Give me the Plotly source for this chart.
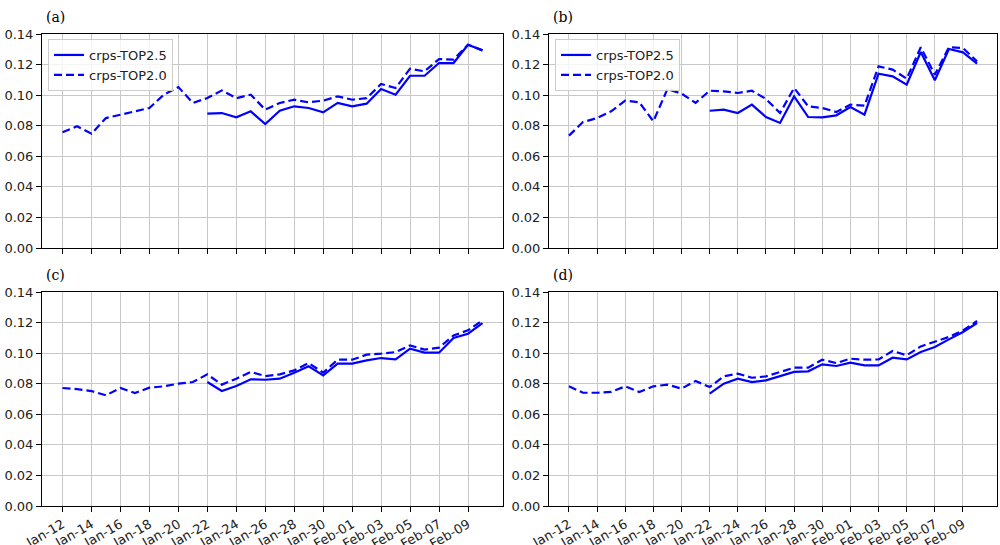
import pandas as pd
import plotly.graph_objects as go
from plotly.subplots import make_subplots

# ---------------- data ----------------
dates_all = pd.date_range("2020-01-12", "2020-02-10", freq="D")
dates_solid = pd.date_range("2020-01-22", "2020-02-10", freq="D")

a_top20 = [0.0757, 0.0796, 0.0748, 0.0850, 0.0872, 0.0894, 0.0916, 0.1003, 0.1053, 0.0949,
           0.0981, 0.1031, 0.0980, 0.1003, 0.0905, 0.0949, 0.0970, 0.0953, 0.0964, 0.0992,
           0.0970, 0.0980, 0.1073, 0.1047, 0.1173, 0.1156, 0.1236, 0.1232, 0.1330, 0.1293]
a_top25 = [0.0879, 0.0883, 0.0855, 0.0894, 0.0811, 0.0898, 0.0927, 0.0916, 0.0887, 0.0949,
           0.0927, 0.0944, 0.1040, 0.1003, 0.1127, 0.1127, 0.1210, 0.1210, 0.1330, 0.1293]

b_top20 = [0.0735, 0.0824, 0.0850, 0.0894, 0.0964, 0.0953, 0.0829, 0.1040, 0.1010, 0.0949,
           0.1029, 0.1025, 0.1014, 0.1029, 0.0975, 0.0883, 0.1047, 0.0927, 0.0916, 0.0890,
           0.0938, 0.0931, 0.1188, 0.1167, 0.1108, 0.1313, 0.1134, 0.1313, 0.1308, 0.1221]
b_top25 = [0.0898, 0.0905, 0.0883, 0.0938, 0.0857, 0.0818, 0.0992, 0.0857, 0.0855, 0.0868,
           0.0922, 0.0872, 0.1140, 0.1123, 0.1068, 0.1282, 0.1097, 0.1302, 0.1280, 0.1206]

c_top20 = [0.0772, 0.0765, 0.0752, 0.0724, 0.0772, 0.0739, 0.0774, 0.0783, 0.0800, 0.0811,
           0.0861, 0.0794, 0.0833, 0.0877, 0.0850, 0.0861, 0.0887, 0.0935, 0.0872, 0.0957,
           0.0957, 0.0990, 0.0997, 0.1007, 0.1051, 0.1023, 0.1036, 0.1116, 0.1149, 0.1215]
c_top25 = [0.0811, 0.0752, 0.0785, 0.0829, 0.0826, 0.0833, 0.0872, 0.0914, 0.0855, 0.0931,
           0.0931, 0.0953, 0.0968, 0.0959, 0.1029, 0.1003, 0.1003, 0.1099, 0.1127, 0.1197]

d_top20 = [0.0783, 0.0741, 0.0741, 0.0746, 0.0783, 0.0746, 0.0783, 0.0794, 0.0768, 0.0818,
           0.0778, 0.0848, 0.0866, 0.0839, 0.0848, 0.0877, 0.0905, 0.0905, 0.0957, 0.0935,
           0.0964, 0.0957, 0.0959, 0.1014, 0.0986, 0.1044, 0.1073, 0.1106, 0.1149, 0.1210]
d_top25 = [0.0735, 0.0800, 0.0833, 0.0811, 0.0822, 0.0850, 0.0877, 0.0881, 0.0927, 0.0916,
           0.0938, 0.0920, 0.0920, 0.0970, 0.0959, 0.1007, 0.1040, 0.1090, 0.1138, 0.1197]

panel_labels = ["(a)", "(b)", "(c)", "(d)"]
series_names = ["crps-TOP2.5", "crps-TOP2.0"]
tick_dates = pd.date_range("2020-01-12", "2020-02-09", freq="2D")
tick_labels = ["Jan-12", "Jan-14", "Jan-16", "Jan-18", "Jan-20", "Jan-22", "Jan-24", "Jan-26",
               "Jan-28", "Jan-30", "Feb-01", "Feb-03", "Feb-05", "Feb-07", "Feb-09"]
y_ticks = [0.00, 0.02, 0.04, 0.06, 0.08, 0.10, 0.12, 0.14]

panels = [(a_top25, a_top20), (b_top25, b_top20), (c_top25, c_top20), (d_top25, d_top20)]

# ---------------- figure ----------------
W, H = 1000, 545
fig = make_subplots(rows=2, cols=2)

BLUE = "#0000ff"
pos = [(1, 1), (1, 2), (2, 1), (2, 2)]
legends = ["legend", "legend2", None, None]
for i, ((s25, s20), (r, c)) in enumerate(zip(panels, pos)):
    lg = legends[i]
    fig.add_trace(go.Scatter(x=dates_solid, y=s25, mode="lines", name=series_names[0],
                             line=dict(color=BLUE, width=2.2),
                             showlegend=lg is not None, legend=lg or "legend"), row=r, col=c)
    fig.add_trace(go.Scatter(x=dates_all, y=s20, mode="lines", name=series_names[1],
                             line=dict(color=BLUE, width=2.2, dash="8px,4px"),
                             showlegend=lg is not None, legend=lg or "legend"), row=r, col=c)

pad = pd.Timedelta(hours=int(29 * 24 * 0.05))
xr = [dates_all[0] - pad, dates_all[-1] + pad]

xdom = [[42 / W, 503 / W], [549 / W, 997 / W]]
ydom = [[1 - 248 / H, 1 - 34 / H], [1 - 506 / H, 1 - 292 / H]]

for i, (r, c) in enumerate(pos):
    fig.update_xaxes(row=r, col=c, domain=xdom[c - 1], range=xr, automargin=False,
                     tickvals=list(tick_dates), ticktext=tick_labels,
                     showticklabels=(r == 2), tickangle=-30,
                     showgrid=True, gridcolor="#c8c8c8", gridwidth=1.3,
                     showline=True, linecolor="black", linewidth=1, mirror=True,
                     ticks="outside", ticklen=5, tickcolor="black",
                     tickfont=dict(family="DejaVu Sans", size=13, color="#222"),
                     zeroline=False)
    fig.update_yaxes(row=r, col=c, domain=ydom[r - 1], range=[0, 0.14], automargin=False,
                     tickvals=y_ticks, tickformat=".2f",
                     showgrid=True, gridcolor="#c8c8c8", gridwidth=1.3,
                     showline=True, linecolor="black", linewidth=1, mirror=True,
                     ticks="outside", ticklen=5, tickcolor="black",
                     tickfont=dict(family="DejaVu Sans", size=13, color="#222"),
                     zeroline=False)

# panel labels
label_xy = [(44, 17), (551, 17), (44, 275), (551, 275)]
for lab, (px, py) in zip(panel_labels, label_xy):
    fig.add_annotation(text=lab, x=px / W, y=1 - py / H, xref="paper", yref="paper",
                       xanchor="left", yanchor="middle", showarrow=False,
                       font=dict(family="DejaVu Serif", size=14, color="black"))

leg_style = dict(bgcolor="rgba(255,255,255,0.8)", bordercolor="#cccccc", borderwidth=1,
                 font=dict(family="DejaVu Sans", size=13, color="#222"),
                 xanchor="left", yanchor="top", tracegroupgap=0, itemwidth=30)
fig.update_layout(
    width=W, height=H,
    margin=dict(l=0, r=0, t=0, b=0, autoexpand=False),
    plot_bgcolor="white", paper_bgcolor="white",
    legend=dict(x=48 / W, y=1 - 39 / H, **leg_style),
    legend2=dict(x=555 / W, y=1 - 39 / H, **leg_style),
)

fig.write_html("out.html", config={"displayModeBar": False},
               post_script="document.body.style.margin='0';document.body.style.overflow='hidden';")
